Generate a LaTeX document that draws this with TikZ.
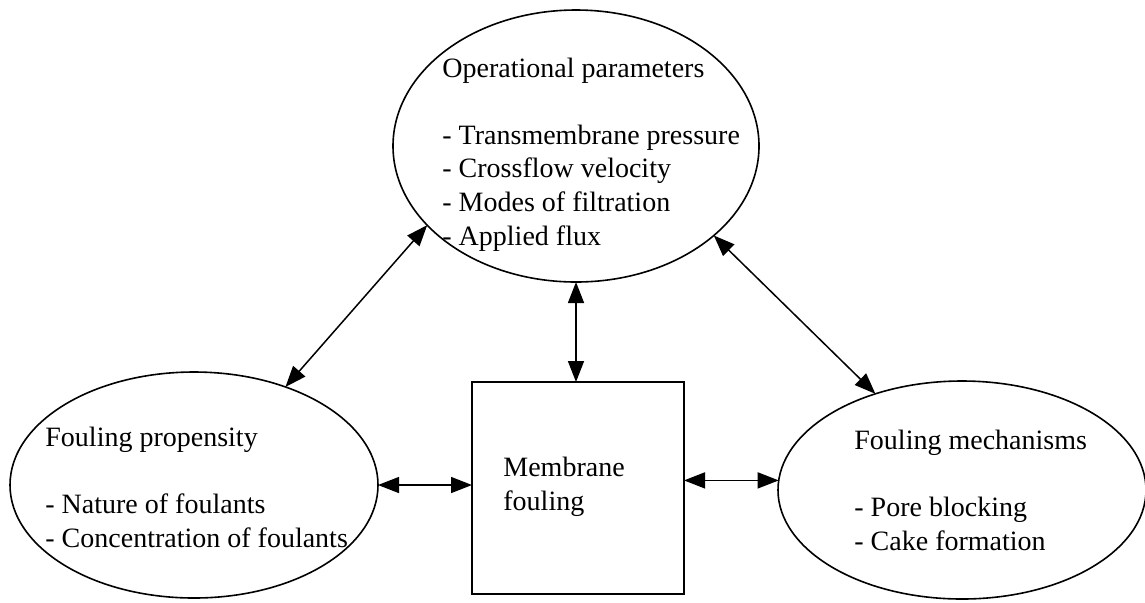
\documentclass[tikz,border=0pt]{standalone}
\usepackage{fontspec}
\setmainfont{Liberation Serif}
\usetikzlibrary{shapes.geometric,arrows.meta,calc}
\begin{document}
\begin{tikzpicture}[x=0.5pt,y=-0.5pt,
  oval/.style={ellipse,draw,line width=0.8pt,inner sep=0pt,outer sep=0pt},
  boxnode/.style={rectangle,draw,line width=0.8pt,inner sep=0pt,outer sep=0pt,minimum width=106pt,minimum height=106pt},
  txt/.style={anchor=base west,align=left,inner sep=0pt,font=\fontsize{14}{16.8}\selectfont},
  arr/.style={{Triangle[length=10.5pt,width=8pt]}-{Triangle[length=10.5pt,width=8pt]},line width=0.75pt}]
\useasboundingbox (0,0) rectangle (1145,602);
\node[oval,minimum width=183pt,minimum height=136pt] (top) at (576,146) {};
\node[oval,minimum width=184pt,minimum height=113pt] (left) at (194,485) {};
\node[oval,minimum width=184pt,minimum height=109pt] (right) at (962,490) {};
\node[boxnode] (box) at (578,488) {};
\node[txt] (ttop) at (442,245) {Operational parameters\\[16.8pt]- Transmembrane pressure\\- Crossflow velocity\\- Modes of filtration\\- Applied flux};
\node[txt] (tleft) at (45,547) {Fouling propensity\\[16.8pt]- Nature of foulants\\- Concentration of foulants};
\node[txt] (tright) at (854,550) {Fouling mechanisms\\[16.8pt]- Pore blocking\\- Cake formation};
\node[txt] (tbox) at (503,510) {Membrane\\fouling};
\draw[arr] (top.208) -- (left.47);
\draw[arr] (top.327) -- (right.132);
\draw[arr] (top.south) -- (top.south |- box.north);
\draw[arr] (left.east) -- (left.east -| box.west);
\draw[arr] (box.east |- right.177) -- (right.177);
\end{tikzpicture}
\end{document}
